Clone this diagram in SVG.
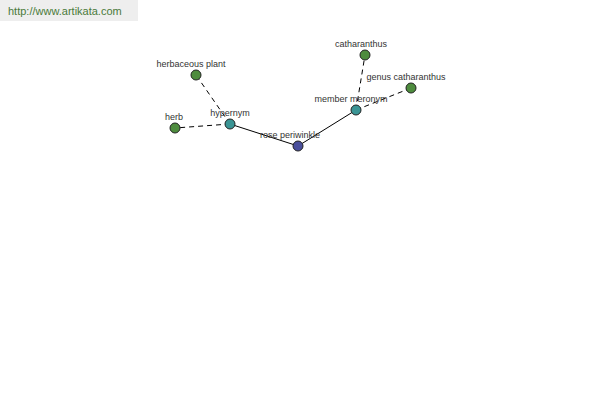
<svg xmlns="http://www.w3.org/2000/svg" width="600" height="400" viewBox="0 0 600 400">
<style>
.lbl{font-family:"Liberation Sans",Arial,sans-serif;font-size:9px;fill:#333;text-anchor:middle}
.n{stroke:#222;stroke-width:1}
.g{fill:#4e8c3e}
.t{fill:#3a9494}
.b{fill:#4a4f9c}
.solid{stroke:#000;stroke-width:1;fill:none}
.dash{stroke:#000;stroke-width:1;fill:none;stroke-dasharray:5,4}
</style>
<rect x="0" y="0" width="138" height="21" fill="#eeeeee"/>
<text x="8" y="15" font-family="'Liberation Sans',Arial,sans-serif" font-size="11" fill="#4a7a3a">http://www.artikata.com</text>
<g id="connectors">
<line class="solid" x1="298" y1="146" x2="230" y2="124"/>
<line class="solid" x1="298" y1="146" x2="356" y2="110"/>
<line class="dash" x1="230" y1="124" x2="175" y2="128"/>
<line class="dash" x1="230" y1="124" x2="196" y2="75"/>
<line class="dash" x1="356" y1="110" x2="365" y2="55"/>
<line class="dash" x1="356" y1="110" x2="411" y2="88"/>
</g>
<g id="rose-periwinkle"><circle class="n b" cx="298" cy="146" r="5"/><text class="lbl" x="290" y="138">rose periwinkle</text></g>
<g id="hypernym"><circle class="n t" cx="230" cy="124" r="5"/><text class="lbl" x="230" y="116">hypernym</text></g>
<g id="herb"><circle class="n g" cx="175" cy="128" r="5"/><text class="lbl" x="174" y="120">herb</text></g>
<g id="herbaceous-plant"><circle class="n g" cx="196" cy="75" r="5"/><text class="lbl" x="191" y="67">herbaceous plant</text></g>
<g id="member-meronym"><circle class="n t" cx="356" cy="110" r="5"/><text class="lbl" x="351" y="102">member meronym</text></g>
<g id="catharanthus"><circle class="n g" cx="365" cy="55" r="5"/><text class="lbl" x="361" y="47">catharanthus</text></g>
<g id="genus-catharanthus"><circle class="n g" cx="411" cy="88" r="5"/><text class="lbl" x="406" y="80">genus catharanthus</text></g>
</svg>
